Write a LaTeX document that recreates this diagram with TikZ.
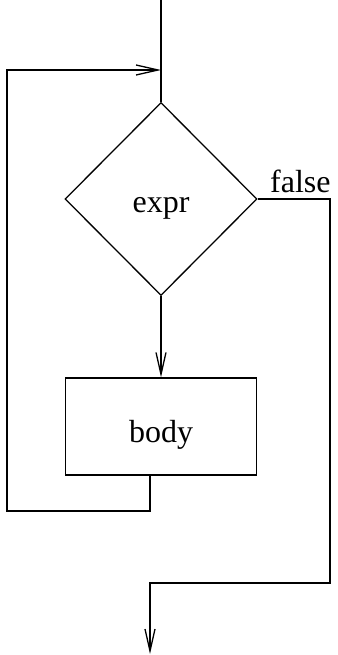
\documentclass[tikz,border=0pt]{standalone}
\usepackage{fontspec}
\setmainfont{Liberation Serif}
\usetikzlibrary{shapes.geometric,arrows.meta}
\begin{document}
\begin{tikzpicture}[x=1pt,y=-1pt,
  line/.style={line width=1.3pt},
  arr/.style={line, -{Straight Barb[length=22pt,width=10pt,line width=1.3pt]}},
  lbl/.style={font=\fontsize{32}{36}\selectfont, inner sep=0pt, anchor=base},
  dia/.style={diamond, draw, line width=1.3pt, minimum width=192pt, minimum height=193pt, inner sep=0pt, aspect=1},
  boxstyle/.style={rectangle, draw, line width=1.3pt, minimum width=191pt, minimum height=97pt, inner sep=0pt}]
\useasboundingbox (0,0) rectangle (337,655);
\node[dia] (cond) at (161,199) {};
\node[lbl] (exprtxt) at (161,212) {expr};
\node[boxstyle] (body) at (161,426.5) {};
\node[lbl] (bodytxt) at (161,442) {body};
\node[lbl, anchor=base west] (falsetxt) at (270,192) {false};
\coordinate (top) at (161,0);
\coordinate (join) at (161,70);
\coordinate (loopstart) at (150,475);
\coordinate (loopbl) at (7,511);
\coordinate (looptl) at (7,70);
\coordinate (fr) at (330,199);
\coordinate (fbr) at (330,583);
\coordinate (fbl) at (150,583);
\coordinate (fend) at (150,654);
\draw[line] (top) -- (cond.north);
\draw[arr] (cond.south) -- (body.north);
\draw[arr] (loopstart) -- (150,511) -- (loopbl) -- (looptl) -- (join);
\draw[arr] (cond.east) -- (fr) -- (fbr) -- (fbl) -- (fend);
\end{tikzpicture}
\end{document}
